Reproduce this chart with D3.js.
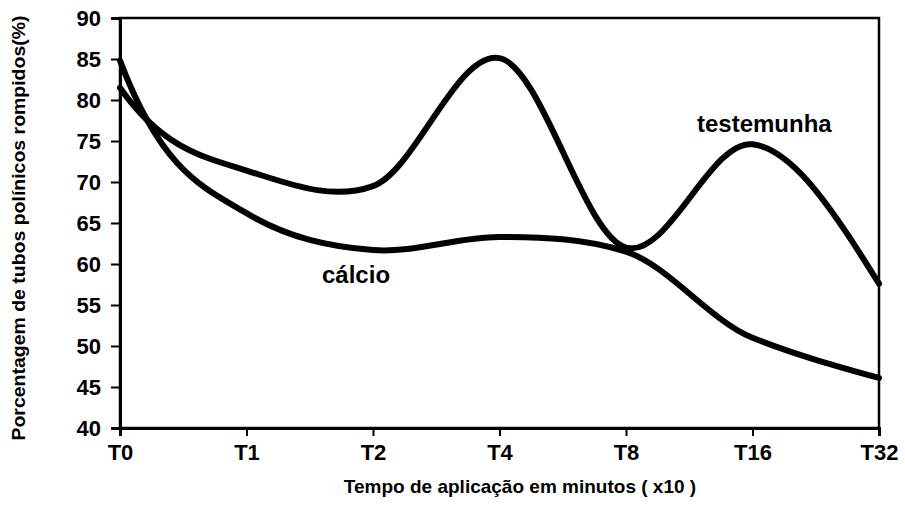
<!DOCTYPE html>
<html>
<head>
<meta charset="utf-8">
<script src="https://cdn.jsdelivr.net/npm/d3@7"></script>
<style>
  html, body { margin: 0; padding: 0; background: #fff; }
  svg { display: block; }
  text { font-family: "Liberation Sans", Arial, sans-serif; font-weight: bold; fill: #000; }
</style>
</head>
<body>
<div id="chart"></div>
<script>
const categories = ["T0", "T1", "T2", "T4", "T8", "T16", "T32"];
const testemunha = [81.5, 71.4, 69.5, 85.1, 62.0, 74.6, 57.6];
const calcio     = [84.8, 66.2, 61.7, 63.3, 61.5, 51.0, 46.1];
const yTicks = [40, 45, 50, 55, 60, 65, 70, 75, 80, 85, 90];
const seriesLabels = ["testemunha", "cálcio"];
const yTitle = "Porcentagem de tubos polínicos rompidos(%)";
const xTitle = "Tempo de aplicação em minutos ( x10 )";

const W = 905, H = 516;
const margin = { left: 120, top: 18, right: 26, bottom: 88 };
const iw = W - margin.left - margin.right;
const ih = H - margin.top - margin.bottom;

// Smoothed Hermite curve: cardinal interior tangents, steep start, natural end
function smoothCurve(context) {
  let pts = [];
  const k = 0.8; // fraction of the Catmull-Rom tangent
  return {
    areaStart() {}, areaEnd() {},
    lineStart() { pts = []; },
    point(x, y) { pts.push([+x, +y]); },
    lineEnd() {
      const n = pts.length;
      if (!n) return;
      context.moveTo(pts[0][0], pts[0][1]);
      if (n < 3) { if (n === 2) context.lineTo(pts[1][0], pts[1][1]); return; }
      const s = [], m = [];
      for (let i = 0; i < n - 1; i++) s[i] = (pts[i + 1][1] - pts[i][1]) / (pts[i + 1][0] - pts[i][0]);
      for (let i = 1; i < n - 1; i++) m[i] = k * (pts[i + 1][1] - pts[i - 1][1]) / (pts[i + 1][0] - pts[i - 1][0]);
      m[0] = 2.2 * s[0];
      m[n - 1] = (3 * s[n - 2] - m[n - 2]) / 2;
      for (let i = 0; i < n - 1; i++) {
        const [x0, y0] = pts[i], [x1, y1] = pts[i + 1];
        const h = (x1 - x0) / 3;
        context.bezierCurveTo(x0 + h, y0 + m[i] * h, x1 - h, y1 - m[i + 1] * h, x1, y1);
      }
    }
  };
}

const svg = d3.select("#chart").append("svg").attr("width", W).attr("height", H);
const g = svg.append("g").attr("transform", `translate(${margin.left},${margin.top})`);

const x = d3.scalePoint().domain(categories).range([0, iw]);
const y = d3.scaleLinear().domain([40, 90]).range([ih, 0]);

// frame
g.append("rect").attr("x", 0).attr("y", 0).attr("width", iw).attr("height", ih)
  .attr("fill", "none").attr("stroke", "#000").attr("stroke-width", 2.5);

// y axis
const ya = g.append("g").call(d3.axisLeft(y).tickValues(yTicks).tickSize(9).tickPadding(10));
ya.select(".domain").attr("stroke-width", 3);
ya.selectAll(".tick line").attr("stroke-width", 2);
ya.selectAll(".tick text").attr("font-size", 22).attr("font-family", "Liberation Sans, Arial, sans-serif").attr("font-weight", "bold");

// x axis
const xa = g.append("g").attr("transform", `translate(0,${ih})`)
  .call(d3.axisBottom(x).tickSize(8).tickPadding(8));
xa.select(".domain").attr("stroke-width", 3);
xa.selectAll(".tick line").attr("stroke-width", 2);
xa.selectAll(".tick text").attr("font-size", 22).attr("font-family", "Liberation Sans, Arial, sans-serif").attr("font-weight", "bold");

// lines
const line = d3.line()
  .x((d, i) => x(categories[i]))
  .y(d => y(d))
  .curve(smoothCurve);

[testemunha, calcio].forEach(s => {
  g.append("path").datum(s).attr("d", line)
    .attr("fill", "none").attr("stroke", "#000").attr("stroke-width", 6)
    .attr("stroke-linecap", "round").attr("stroke-linejoin", "round");
});

// series labels
svg.append("text").attr("x", 697).attr("y", 132).attr("font-size", 24).text(seriesLabels[0]);
svg.append("text").attr("x", 322).attr("y", 283).attr("font-size", 24).text(seriesLabels[1]);

// axis titles
svg.append("text").attr("transform", "translate(25,228) rotate(-90)")
  .attr("text-anchor", "middle").attr("font-size", 18)
  .attr("textLength", 425).attr("lengthAdjust", "spacingAndGlyphs")
  .text(yTitle);
svg.append("text").attr("x", 520).attr("y", 493)
  .attr("text-anchor", "middle").attr("font-size", 19)
  .text(xTitle);
</script>
</body>
</html>
